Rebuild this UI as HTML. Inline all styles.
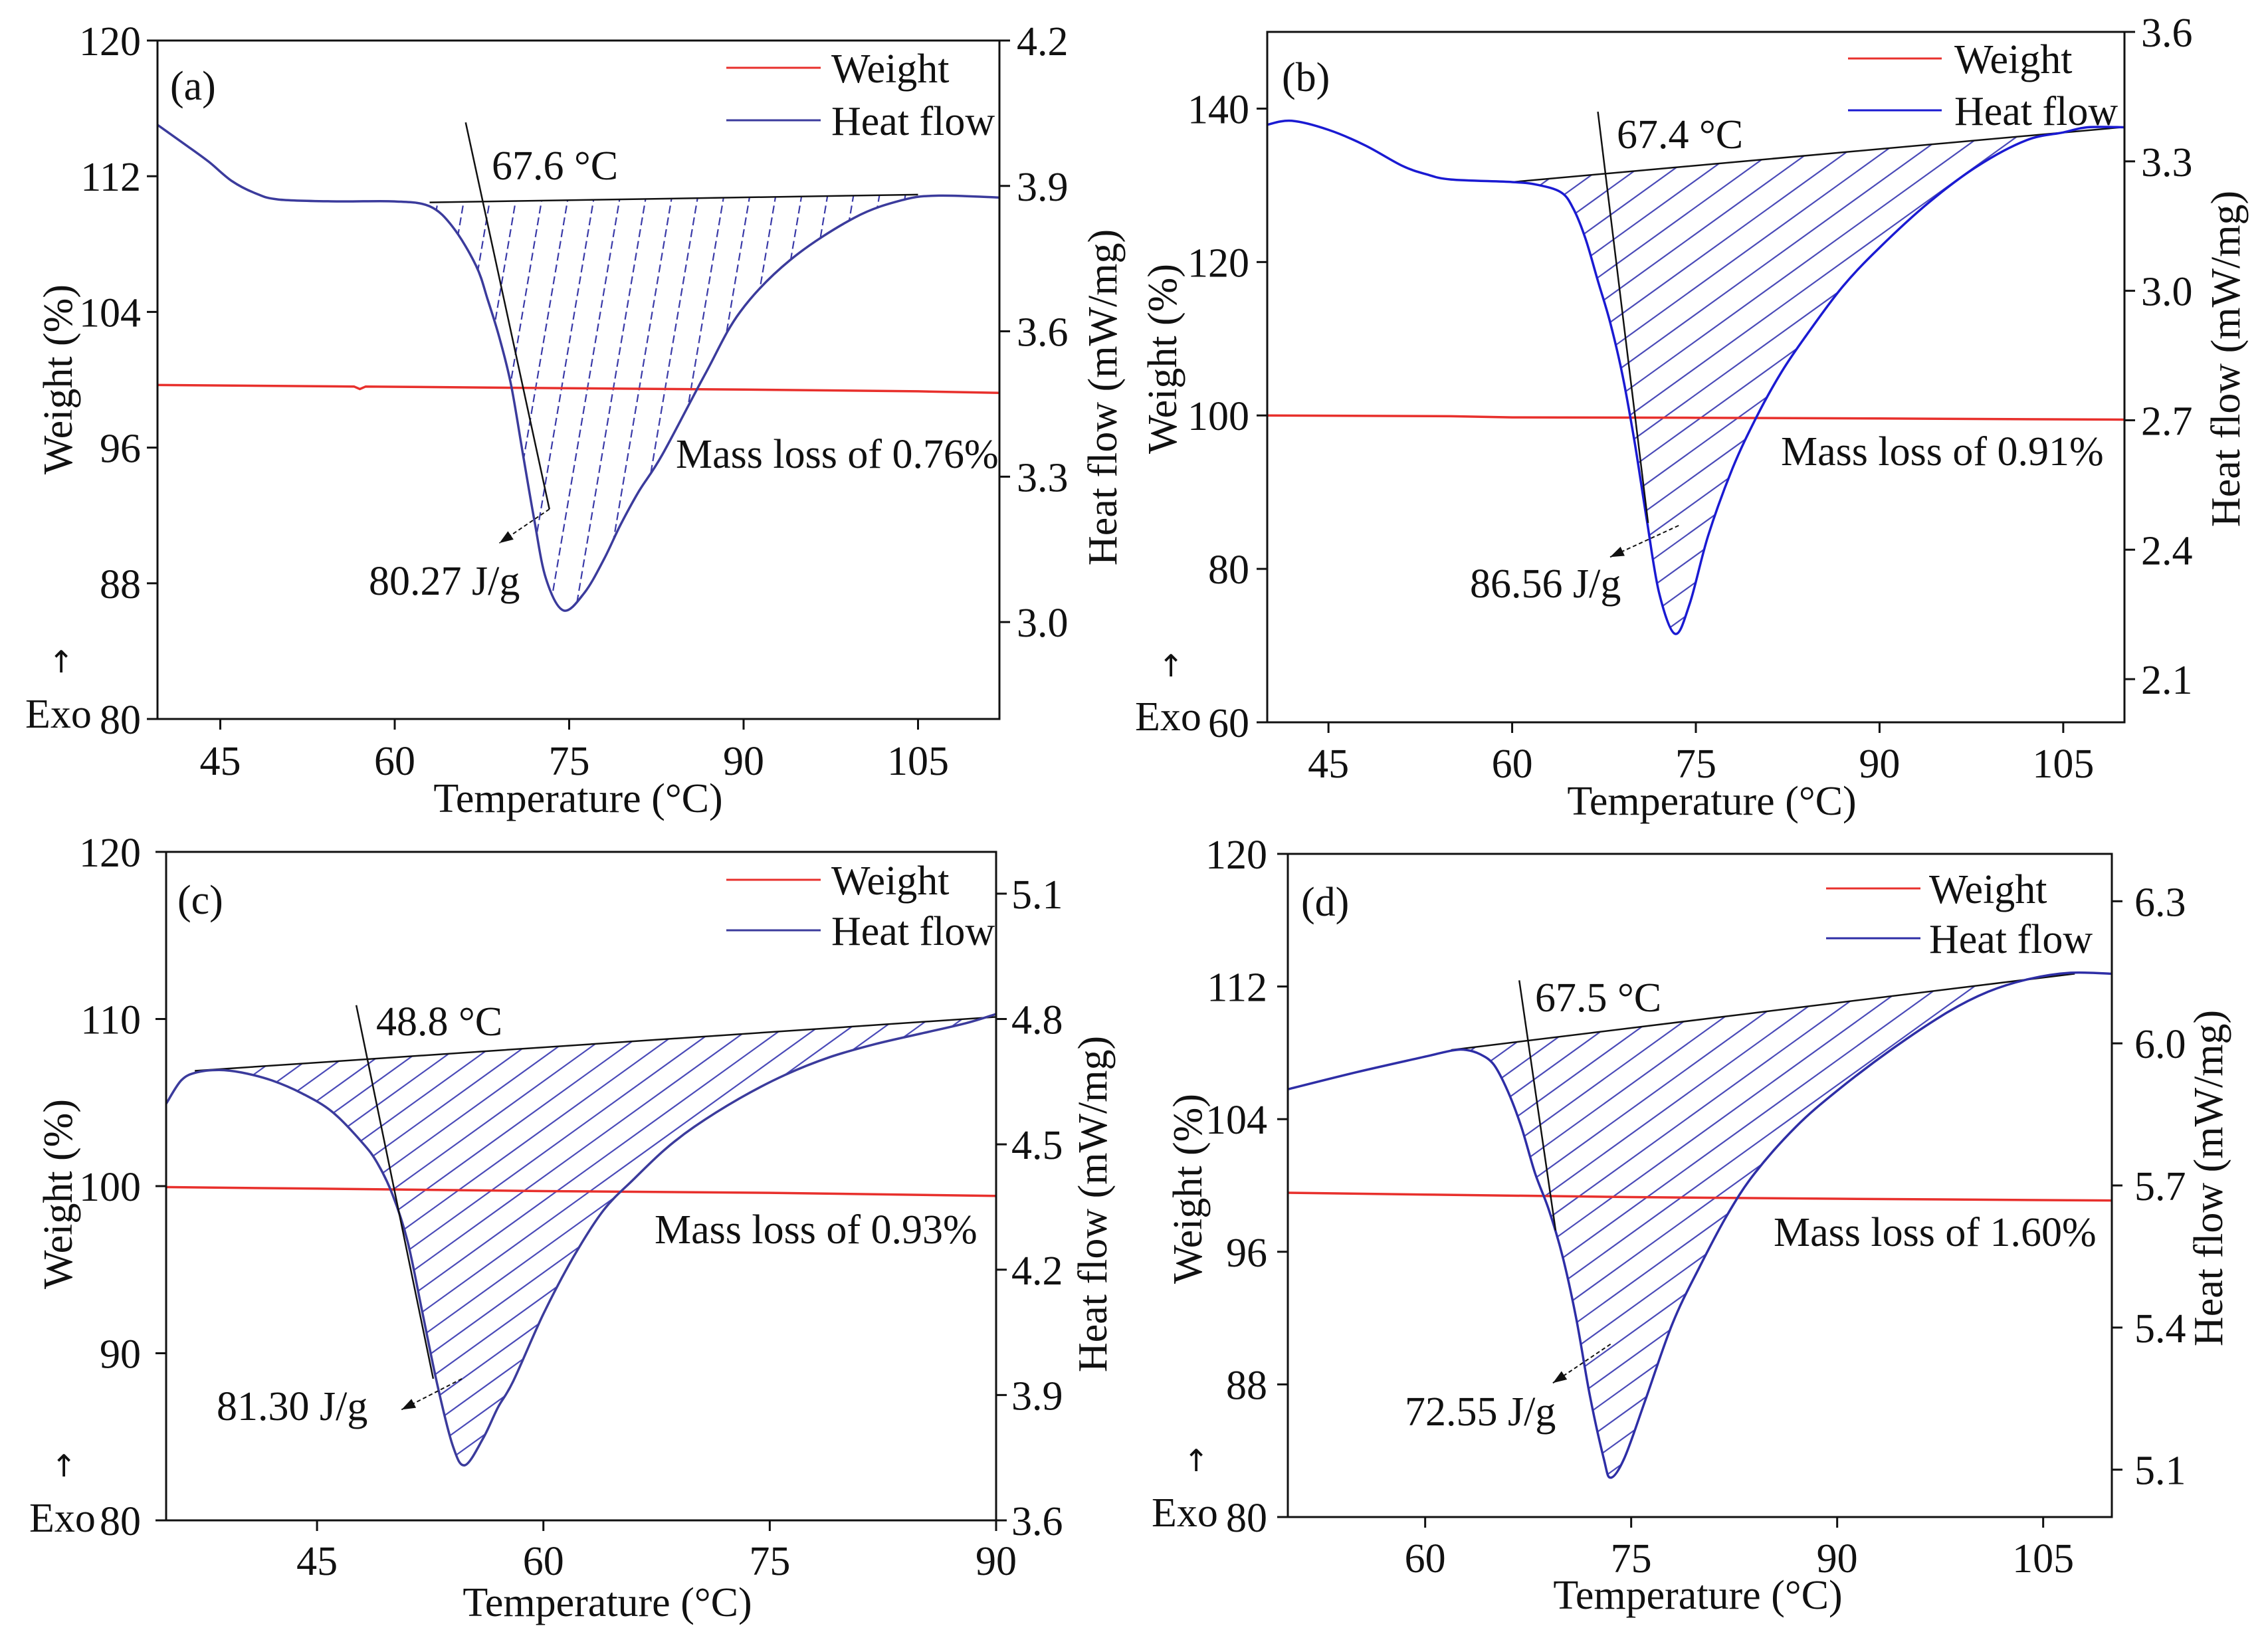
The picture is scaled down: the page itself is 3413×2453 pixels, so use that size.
<!DOCTYPE html>
<html><head><meta charset="utf-8">
<style>
html,body{margin:0;padding:0;background:#fff;}
svg{display:block;font-family:"Liberation Serif",serif;}
</style></head>
<body>
<svg id="fig" width="3413" height="2453" viewBox="0 0 3413 2453" xmlns="http://www.w3.org/2000/svg"></svg>
<script>
// ---- Panel (a) data ----
const aTemp = [39.6,42,44,46,48,50,55,60,63,65,67,68,69,70,71,72,73,74.5,76.3,78,79.4,81,83,86.7,89.7,94,99.5,103.7,106.8,112];
const aHeat = [4.026,3.985,3.95,3.91,3.885,3.872,3.868,3.868,3.858,3.815,3.735,3.665,3.587,3.49,3.35,3.211,3.09,3.024,3.06,3.13,3.2,3.27,3.345,3.512,3.64,3.747,3.834,3.871,3.88,3.876];
const aWTemp = [39.6,56.5,57,57.5,75,90,105,112];
const aWeight = [99.69,99.6,99.45,99.6,99.5,99.42,99.32,99.23];
const aBase = [63,3.866,105,3.882];
const aTangent = [66.1,4.031,73.3,3.233];
const aArrow = [73.3,3.233,69.0,3.163];
const aXTicks = [45,60,75,90,105];
const aLTicks = [80,88,96,104,112,120];
const aRTicks = [3.0,3.3,3.6,3.9,4.2];
// ---- Panel (b) data ----
const bTemp = [40,42,45,48,51,53,55,60,62,64,65,66,67,68,69,70,71,72,73.3,74.5,76,78,80,82,84,87,90,94,98,102,105,107,110];
const bHeat = [3.385,3.394,3.373,3.337,3.29,3.27,3.258,3.252,3.246,3.228,3.19,3.12,3.023,2.927,2.806,2.649,2.468,2.30,2.205,2.275,2.432,2.589,2.71,2.812,2.896,3.01,3.10,3.204,3.289,3.349,3.367,3.379,3.379];
const bWTemp = [40,55,60,75,90,110];
const bWeight = [100,99.9,99.75,99.7,99.6,99.46];
const bBase = [60,3.252,109.8,3.379];
const bTangent = [67.0,3.415,71.1,2.462];
const bArrow = [73.6,2.456,68.0,2.383];
const bXTicks = [45,60,75,90,105];
const bLTicks = [60,80,100,120,140];
const bRTicks = [2.1,2.4,2.7,3.0,3.3,3.6];
// ---- Panel (c) data ----
const cTemp = [35,36,37,38.5,40,42,44,46,48,49,50,51,52,53,54,54.8,56,57,58,60,62,64,66,68,70,73,76,79,82,85,88,90];
const cHeat = [4.597,4.653,4.672,4.678,4.672,4.653,4.622,4.578,4.504,4.455,4.38,4.268,4.094,3.92,3.778,3.732,3.796,3.871,3.933,4.094,4.231,4.343,4.417,4.486,4.542,4.61,4.666,4.709,4.74,4.765,4.79,4.812];
const cWTemp = [35,45,60,75,90];
const cWeight = [99.94,99.85,99.7,99.6,99.41];
const cBase = [36.9,4.676,90,4.805];
const cTangent = [47.6,4.833,52.7,3.939];
const cArrow = [54.6,3.939,50.6,3.865];
const cXTicks = [45,60,75,90];
const cLTicks = [80,90,100,110,120];
const cRTicks = [3.6,3.9,4.2,4.5,4.8,5.1];
// ---- Panel (d) data ----
const dTemp = [50,55,60,62,63,64,65,66,67,68,69,70,71,72,73,73.5,74.5,76,78,80,82,84,87,90,94,98,101,104,107,110];
const dHeat = [5.903,5.939,5.972,5.985,5.986,5.977,5.955,5.90,5.824,5.726,5.649,5.551,5.419,5.255,5.124,5.083,5.124,5.244,5.408,5.529,5.638,5.726,5.824,5.90,5.988,6.065,6.109,6.136,6.149,6.147];
const dWTemp = [50,60,75,90,110];
const dWeight = [99.56,99.45,99.3,99.2,99.09];
const dBase = [61.9,5.986,107.3,6.147];
const dTangent = [66.85,6.133,69.5,5.605];
const dArrow = [73.5,5.365,69.3,5.283];
const dXTicks = [60,75,90,105];
const dLTicks = [80,88,96,104,112,120];
const dRTicks = [5.1,5.4,5.7,6.0,6.3];

const NS = "http://www.w3.org/2000/svg";
const svg = document.getElementById('fig');
let uid = 0;
function mk(parent, tag, attrs, name, inter){
  const el = document.createElementNS(NS, tag);
  for (const k in attrs) el.setAttribute(k, attrs[k]);
  
  
  parent.appendChild(el);
  return el;
}
function txt(parent, x, y, s, name, anchor, extra){
  const a = Object.assign({x:x, y:y, 'font-size':62, fill:'#111', 'text-anchor':anchor||'start'}, extra||{});
  const t = mk(parent, 'text', a, name, false);
  t.textContent = s;
  return t;
}
function smooth(pts){
  let d = 'M' + pts[0][0].toFixed(1) + ',' + pts[0][1].toFixed(1);
  for (let i = 0; i < pts.length - 1; i++){
    const p0 = pts[i-1] || pts[i], p1 = pts[i], p2 = pts[i+1], p3 = pts[i+2] || pts[i+1];
    const c1x = p1[0] + (p2[0]-p0[0])/6, c1y = p1[1] + (p2[1]-p0[1])/6;
    const c2x = p2[0] - (p3[0]-p1[0])/6, c2y = p2[1] - (p3[1]-p1[1])/6;
    d += ' C' + c1x.toFixed(1)+','+c1y.toFixed(1)+' '+c2x.toFixed(1)+','+c2y.toFixed(1)+' '+p2[0].toFixed(1)+','+p2[1].toFixed(1);
  }
  return d;
}

function panel(c, D){
  const g = mk(svg, 'g', {}, 'panel-' + c.id, false);
  const xs = T => c.L + (T - c.x0) / (c.x1 - c.x0) * (c.R - c.L);
  const yl = v => c.B - (v - c.l0) / (c.l1 - c.l0) * (c.B - c.T);
  const yr = v => c.B - (v - c.r0) / (c.r1 - c.r0) * (c.B - c.T);
  const id = 'p' + (uid++);
  const defs = mk(g, 'defs', {}, 'defs', false);
  const cpPlot = mk(defs, 'clipPath', {id: id+'plot'}, 'plot-clip', false);
  mk(cpPlot, 'rect', {x:c.L, y:c.T, width:c.R-c.L, height:c.B-c.T}, 'plot-clip-rect', false);

  const pts = D.temp.map((t,i) => [xs(t), yr(D.heat[i])]);
  const curveD = smooth(pts);
  const bx1 = xs(D.base[0]), by1 = yr(D.base[1]), bx2 = xs(D.base[2]), by2 = yr(D.base[3]);

  const cpBelow = mk(defs, 'clipPath', {id: id+'below'}, 'below-baseline-clip', false);
  mk(cpBelow, 'path', {d:`M${bx1},${by1} L${bx2},${by2} L${bx2},${c.B+500} L${bx1},${c.B+500} Z`}, 'below-baseline-shape', false);
  const cpAbove = mk(defs, 'clipPath', {id: id+'above'}, 'above-curve-clip', false);
  const last = pts[pts.length-1], first = pts[0];
  mk(cpAbove, 'path', {d: curveD + ` L${last[0]},${c.T-500} L${first[0]},${c.T-500} Z`}, 'above-curve-shape', false);

  const hg1 = mk(g, 'g', {'clip-path':`url(#${id}below)`}, 'hatch-outer', false);
  const hg = mk(hg1, 'g', {'clip-path':`url(#${id}above)`}, 'hatch-area', false);
  const H = c.B - c.T;
  if (c.hatch === 'steep'){
    for (let x = c.L - 200; x < c.R + 400; x += 39){
      mk(hg, 'line', {x1:x, y1:c.T, x2:x - 0.17*H, y2:c.B, stroke:'#3a3aa8', 'stroke-width':2.2, 'stroke-dasharray':'12,6'}, 'hatch-line', false);
    }
  } else {
    for (let x = c.L - 2000; x < c.R + 200; x += c.hsp){
      mk(hg, 'line', {x1:x, y1:c.B, x2:x + H/0.72, y2:c.T, stroke:'#4a4ab8', 'stroke-width':2.2}, 'hatch-line', false);
    }
  }

  const pg = mk(g, 'g', {'clip-path':`url(#${id}plot)`}, 'plot-area', false);
  const wp = D.wT.map((t,i) => xs(t).toFixed(1) + ',' + yl(D.wV[i]).toFixed(1)).join(' ');
  mk(pg, 'polyline', {points:wp, fill:'none', stroke:'#e8302c', 'stroke-width':3.5}, 'weight-line', false);
  mk(pg, 'line', {x1:bx1, y1:by1, x2:bx2, y2:by2, stroke:'#111', 'stroke-width':2.5}, 'integration-baseline', false);
  mk(pg, 'path', {d:curveD, fill:'none', stroke:c.hc, 'stroke-width':3.5}, 'heat-flow-line', false);
  mk(g, 'line', {x1:xs(D.tan[0]), y1:yr(D.tan[1]), x2:xs(D.tan[2]), y2:yr(D.tan[3]), stroke:'#111', 'stroke-width':2.5}, 'onset-tangent-line', false);
  const ax1 = xs(D.arr[0]), ay1 = yr(D.arr[1]), ax2 = xs(D.arr[2]), ay2 = yr(D.arr[3]);
  mk(g, 'line', {x1:ax1, y1:ay1, x2:ax2, y2:ay2, stroke:'#111', 'stroke-width':2, 'stroke-dasharray':'6,4'}, 'enthalpy-arrow-line', false);
  const ang = Math.atan2(ay2-ay1, ax2-ax1), al = 22;
  const p1 = [ax2 - al*Math.cos(ang-0.35), ay2 - al*Math.sin(ang-0.35)];
  const p2 = [ax2 - al*Math.cos(ang+0.35), ay2 - al*Math.sin(ang+0.35)];
  mk(g, 'polygon', {points:`${ax2},${ay2} ${p1[0]},${p1[1]} ${p2[0]},${p2[1]}`, fill:'#111'}, 'enthalpy-arrow-head', false);

  mk(g, 'rect', {x:c.L, y:c.T, width:c.R-c.L, height:c.B-c.T, fill:'none', stroke:'#111', 'stroke-width':3}, 'plot-frame', false);
  D.xt.forEach(t => {
    const x = xs(t);
    mk(g, 'line', {x1:x, y1:c.B, x2:x, y2:c.B+16, stroke:'#111', 'stroke-width':3}, 'x-tick', false);
    txt(g, x, c.xlab, String(t), 'x-tick-label', 'middle');
  });
  D.lt.forEach(t => {
    const y = yl(t);
    mk(g, 'line', {x1:c.L-16, y1:y, x2:c.L, y2:y, stroke:'#111', 'stroke-width':3}, 'left-y-tick', false);
    txt(g, c.llab, y+22, String(t), 'left-y-tick-label', 'end');
  });
  D.rt.forEach(t => {
    const y = yr(t);
    mk(g, 'line', {x1:c.R, y1:y, x2:c.R+16, y2:y, stroke:'#111', 'stroke-width':3}, 'right-y-tick', false);
    txt(g, c.rlab, y+22, t.toFixed(1), 'right-y-tick-label', 'start');
  });
  txt(g, c.xtx, c.xty, 'Temperature (°C)', 'x-axis-title', 'middle');
  txt(g, 0, 0, 'Weight (%)', 'left-y-axis-title', 'middle', {transform:`translate(${c.ytx},${c.yty}) rotate(-90)`});
  txt(g, 0, 0, 'Heat flow (mW/mg)', 'right-y-axis-title', 'middle', {transform:`translate(${c.rtx},${c.rty}) rotate(-90)`});
  txt(g, c.upx, c.upy, '↑', 'exo-arrow', 'middle', {'font-family':'"DejaVu Sans",sans-serif','font-size':46});
  txt(g, c.exx, c.exy, 'Exo', 'exo-label', 'start');
  txt(g, c.pax, c.pay, c.plabel, 'panel-label', 'start');
  mk(g, 'line', {x1:c.lg1, y1:c.lgy1, x2:c.lg2, y2:c.lgy1, stroke:'#e8302c', 'stroke-width':3}, 'legend-weight-swatch', false);
  txt(g, c.lgt, c.lgy1+22, 'Weight', 'legend-weight-label', 'start');
  mk(g, 'line', {x1:c.lg1, y1:c.lgy2, x2:c.lg2, y2:c.lgy2, stroke:c.hc, 'stroke-width':3}, 'legend-heat-flow-swatch', false);
  txt(g, c.lgt, c.lgy2+22, 'Heat flow', 'legend-heat-flow-label', 'start');
  txt(g, c.onx, c.ony, c.onset, 'onset-temperature-label', 'start');
  txt(g, c.mlx, c.mly, c.mass, 'mass-loss-label', 'start');
  txt(g, c.enx, c.eny, c.enth, 'enthalpy-label', 'start');
}

panel({id:'a', plabel:'(a)', L:237, R:1504, T:61, B:1082, x0:39.6, x1:112, l0:80, l1:120, r0:2.8, r1:4.2,
  hatch:'steep', hc:'#3b3b9c', xlab:1166, llab:212, rlab:1530, xtx:870, xty:1222, ytx:108, yty:571, rtx:1680, rty:598,
  upx:92, upy:1012, exx:38, exy:1095, pax:256, pay:150, lg1:1093, lg2:1235, lgy1:102, lgy2:181, lgt:1251,
  onx:740, ony:270, onset:'67.6 °C', mlx:1017, mly:704, mass:'Mass loss of 0.76%', enx:555, eny:895, enth:'80.27 J/g'},
  {temp:aTemp, heat:aHeat, wT:aWTemp, wV:aWeight, base:aBase, tan:aTangent, arr:aArrow, xt:aXTicks, lt:aLTicks, rt:aRTicks});

panel({id:'b', plabel:'(b)', L:1907, R:3197, T:48, B:1087, x0:40, x1:110, l0:60, l1:150, r0:2.0, r1:3.6,
  hatch:'diag', hsp:56, hc:'#1a1ad2', xlab:1170, llab:1880, rlab:3222, xtx:2576, xty:1226, ytx:1770, yty:540, rtx:3370, rty:540,
  upx:1762, upy:1018, exx:1708, exy:1099, pax:1929, pay:137, lg1:2781, lg2:2922, lgy1:88, lgy2:166, lgt:2941,
  onx:2433, ony:223, onset:'67.4 °C', mlx:2680, mly:700, mass:'Mass loss of 0.91%', enx:2212, eny:899, enth:'86.56 J/g'},
  {temp:bTemp, heat:bHeat, wT:bWTemp, wV:bWeight, base:bBase, tan:bTangent, arr:bArrow, xt:bXTicks, lt:bLTicks, rt:bRTicks});

panel({id:'c', plabel:'(c)', L:250, R:1499, T:1282, B:2288, x0:35, x1:90, l0:80, l1:120, r0:3.6, r1:5.2,
  hatch:'diag', hsp:50, hc:'#3b3b9c', xlab:2370, llab:212, rlab:1522, xtx:914, xty:2432, ytx:108, yty:1797, rtx:1665, rty:1812,
  upx:96, upy:2222, exx:44, exy:2305, pax:267, pay:1375, lg1:1093, lg2:1235, lgy1:1324, lgy2:1400, lgt:1251,
  onx:566, ony:1558, onset:'48.8 °C', mlx:985, mly:1871, mass:'Mass loss of 0.93%', enx:326, eny:2137, enth:'81.30 J/g'},
  {temp:cTemp, heat:cHeat, wT:cWTemp, wV:cWeight, base:cBase, tan:cTangent, arr:cArrow, xt:cXTicks, lt:cLTicks, rt:cRTicks});

panel({id:'d', plabel:'(d)', L:1938, R:3178, T:1285, B:2283, x0:50, x1:110, l0:80, l1:120, r0:5.0, r1:6.4,
  hatch:'diag', hsp:52, hc:'#2e2ea6', xlab:2366, llab:1907, rlab:3212, xtx:2555, xty:2421, ytx:1808, yty:1789, rtx:3344, rty:1773,
  upx:1800, upy:2214, exx:1733, exy:2297, pax:1958, pay:1378, lg1:2748, lg2:2890, lgy1:1337, lgy2:1412, lgt:2903,
  onx:2310, ony:1522, onset:'67.5 °C', mlx:2669, mly:1875, mass:'Mass loss of 1.60%', enx:2114, eny:2145, enth:'72.55 J/g'},
  {temp:dTemp, heat:dHeat, wT:dWTemp, wV:dWeight, base:dBase, tan:dTangent, arr:dArrow, xt:dXTicks, lt:dLTicks, rt:dRTicks});
</script>
</body></html>
